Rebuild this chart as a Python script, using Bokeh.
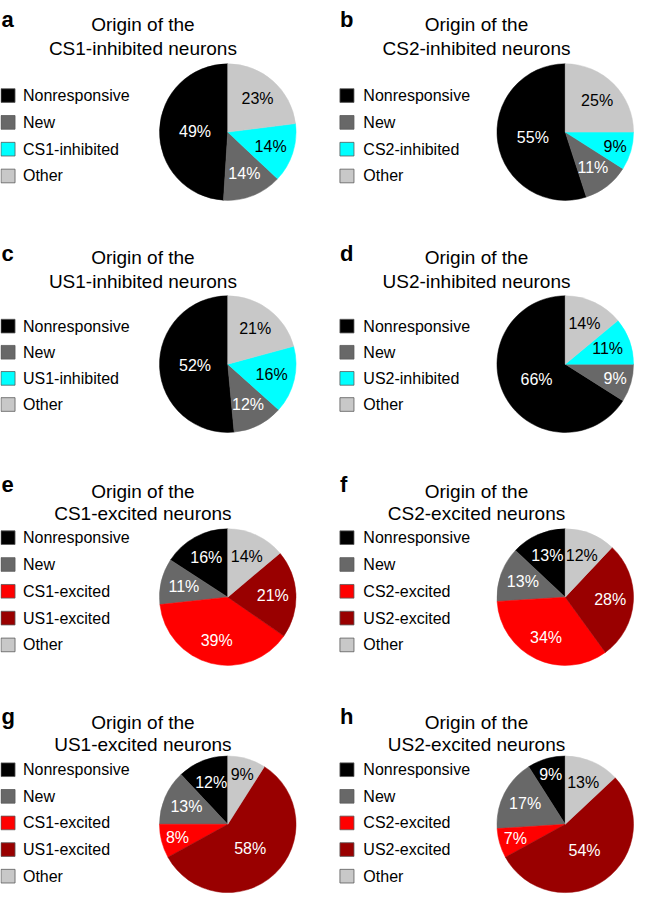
import math
from bokeh.plotting import figure
from bokeh.models import Range1d
from bokeh.core.properties import value
from bokeh.embed import file_html
from bokeh.resources import INLINE

# ---------------- data ----------------
letters = ["a", "b", "c", "d", "e", "f", "g", "h"]
title_line1 = "Origin of the"
title_line2 = ["CS1-inhibited neurons", "CS2-inhibited neurons",
               "US1-inhibited neurons", "US2-inhibited neurons",
               "CS1-excited neurons", "CS2-excited neurons",
               "US1-excited neurons", "US2-excited neurons"]

cats_a = ["Nonresponsive", "New", "CS1-inhibited", "Other"]
cats_b = ["Nonresponsive", "New", "CS2-inhibited", "Other"]
cats_c = ["Nonresponsive", "New", "US1-inhibited", "Other"]
cats_d = ["Nonresponsive", "New", "US2-inhibited", "Other"]
cats_e = ["Nonresponsive", "New", "CS1-excited", "US1-excited", "Other"]
cats_f = ["Nonresponsive", "New", "CS2-excited", "US2-excited", "Other"]
cats_g = ["Nonresponsive", "New", "CS1-excited", "US1-excited", "Other"]
cats_h = ["Nonresponsive", "New", "CS2-excited", "US2-excited", "Other"]

pct_a = [49, 14, 14, 23]
pct_b = [55, 11, 9, 25]
pct_c = [52, 12, 16, 21]
pct_d = [66, 9, 11, 14]
pct_e = [16, 11, 39, 21, 14]
pct_f = [13, 13, 34, 28, 12]
pct_g = [12, 13, 8, 58, 9]
pct_h = [9, 17, 7, 54, 13]

colors_inh = ["#000000", "#686868", "#00FFFF", "#C8C8C8"]
colors_exc = ["#000000", "#686868", "#FF0000", "#990000", "#C8C8C8"]
label_col_inh = ["white", "white", "black", "black"]
label_col_exc = ["white", "white", "white", "white", "black"]

panels = [
    (cats_a, pct_a, colors_inh, label_col_inh),
    (cats_b, pct_b, colors_inh, label_col_inh),
    (cats_c, pct_c, colors_inh, label_col_inh),
    (cats_d, pct_d, colors_inh, label_col_inh),
    (cats_e, pct_e, colors_exc, label_col_exc),
    (cats_f, pct_f, colors_exc, label_col_exc),
    (cats_g, pct_g, colors_exc, label_col_exc),
    (cats_h, pct_h, colors_exc, label_col_exc),
]

# ---------------- layout (reference pixel coordinates) ----------------
W_IMG, H_IMG = 650, 917
COLS = [dict(letter=1, title=146, pie=233, sq=0.5, txt=23),
        dict(letter=348, title=488, pie=579, sq=348, txt=372)]
ROWS = [dict(letter=19, t1=25, t2=49, pie=135, leg=97.5, step=27.5),
        dict(letter=259, t1=264, t2=288, pie=373, leg=334, step=26.8),
        dict(letter=496, t1=504, t2=526, pie=612, leg=551, step=27.5),
        dict(letter=734, t1=741, t2=763, pie=845, leg=789, step=27.3)]
R = 70

FONT = value("Liberation Sans")
s = 634 / W_IMG


def Y(v):
    return H_IMG - v


p = figure(width=634, height=round(H_IMG * s), output_backend="svg",
           toolbar_location=None, x_range=Range1d(0, W_IMG),
           y_range=Range1d(0, H_IMG), min_border=0)
p.axis.visible = False
p.grid.visible = False
p.outline_line_color = None
p.background_fill_color = "white"

for i, (cats, pct, cols, lcols) in enumerate(panels):
    C = COLS[i % 2]
    Rw = ROWS[i // 2]
    # panel letter
    p.text(x=[C["letter"]], y=[Y(Rw["letter"])], text=[letters[i]],
           text_font=FONT, text_font_size=value("22px"), text_font_style="bold",
           text_align="left", text_baseline="alphabetic", text_color="black")
    # title
    p.text(x=[C["title"], C["title"]], y=[Y(Rw["t1"]), Y(Rw["t2"])],
           text=[title_line1, title_line2[i]], text_font=FONT,
           text_font_size=value("19px"), text_align="center",
           text_baseline="alphabetic", text_color="black")
    # legend
    ly = [Y(Rw["leg"] + k * Rw["step"]) for k in range(len(cats))]
    p.rect(x=[C["sq"] + 7.2] * len(cats), y=ly, width=14.4, height=14,
           fill_color=cols, line_color="#5a5a5a", line_width=0.8)
    p.text(x=[C["txt"]] * len(cats), y=ly, text=cats, text_font=FONT,
           text_font_size=value("16px"), text_align="left",
           text_baseline="middle", text_color="black")
    # pie
    total = float(sum(pct))
    starts, ends, lx, lyy = [], [], [], []
    a = math.pi / 2
    cx, cy = C["pie"], Y(Rw["pie"])
    for v in pct:
        da = 2 * math.pi * v / total
        starts.append(a)
        ends.append(a + da)
        mid = a + da / 2
        f = 0.48 if v >= 40 else (0.76 if v < 10 else 0.66)
        lx.append(cx + f * R * math.cos(mid))
        lyy.append(cy + f * R * math.sin(mid))
        a += da
    p.wedge(x=cx, y=cy, radius=R, start_angle=starts, end_angle=ends,
            fill_color=cols, line_color=cols, line_width=0.5)
    p.text(x=lx, y=lyy, text=[f"{v}%" for v in pct], text_font=FONT,
           text_font_size=value("16px"), text_align="center",
           text_baseline="middle", text_color=lcols)

open("out.html", "w").write(file_html(p, INLINE))
